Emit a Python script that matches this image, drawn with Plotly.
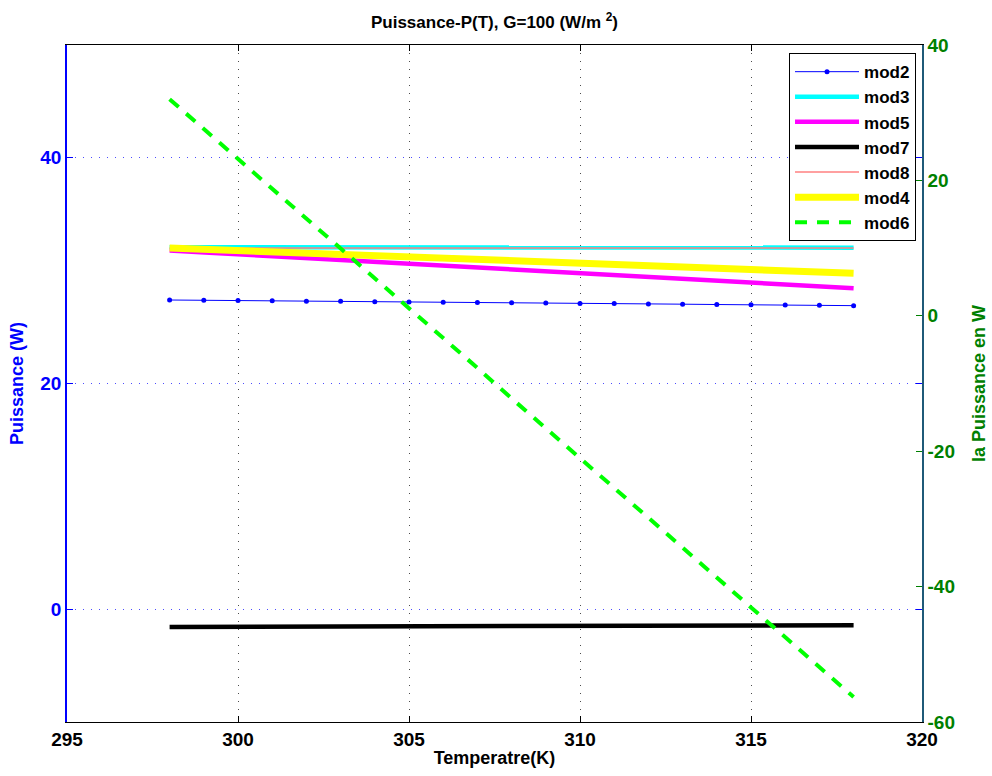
import plotly.graph_objects as go

temperature = list(range(298, 319))

mod2 = [27.40, 27.38, 27.35, 27.33, 27.30, 27.28, 27.25, 27.23, 27.20, 27.18, 27.15,
        27.13, 27.10, 27.08, 27.05, 27.03, 27.00, 26.98, 26.95, 26.93, 26.90]
mod3 = [32.08, 32.08, 32.08, 32.07, 32.07, 32.07, 32.07, 32.06, 32.06, 32.06, 32.06,
        32.06, 32.05, 32.05, 32.05, 32.05, 32.04, 32.04, 32.04, 32.04, 32.04]
mod5 = [31.78, 31.61, 31.45, 31.28, 31.11, 30.95, 30.78, 30.61, 30.44, 30.28, 30.11,
        29.94, 29.78, 29.61, 29.44, 29.28, 29.11, 28.94, 28.78, 28.61, 28.44]
mod7 = [-1.58, -1.57, -1.57, -1.56, -1.55, -1.54, -1.53, -1.52, -1.52, -1.51, -1.50,
        -1.49, -1.48, -1.47, -1.47, -1.46, -1.45, -1.44, -1.43, -1.43, -1.42]
mod8 = [32.00, 32.00, 32.00, 32.00, 32.00, 32.00, 32.00, 32.00, 32.00, 32.00, 32.00,
        32.00, 32.00, 32.00, 32.00, 32.00, 32.00, 32.00, 32.00, 32.00, 32.00]
mod4 = [32.00, 31.89, 31.78, 31.67, 31.55, 31.44, 31.33, 31.22, 31.11, 31.00, 30.89,
        30.77, 30.66, 30.55, 30.44, 30.33, 30.22, 30.11, 29.99, 29.88, 29.77]
mod6 = [32.0, 27.6, 23.2, 18.8, 14.3, 9.9, 5.5, 1.1, -3.3, -7.7, -12.2,
        -16.6, -21.0, -25.4, -29.8, -34.2, -38.6, -43.1, -47.5, -51.9, -56.3]

x_ticks = [295, 300, 305, 310, 315, 320]
left_ticks = [0, 20, 40]
right_ticks = [-60, -40, -20, 0, 20, 40]
right_tick_labels = ["-60", "-40", "-20", "0", "20", "40"]

FONT = "Liberation Sans, Arial, sans-serif"
BLUE = "#0000ff"
GREEN = "#008000"

fig = go.Figure()
fig.add_trace(go.Scatter(x=temperature, y=mod2, name="mod2", mode="lines+markers",
                         line=dict(color=BLUE, width=1), marker=dict(color=BLUE, size=5)))
fig.add_trace(go.Scatter(x=temperature, y=mod3, name="mod3", mode="lines",
                         line=dict(color="#00ffff", width=4.5)))
fig.add_trace(go.Scatter(x=temperature, y=mod5, name="mod5", mode="lines",
                         line=dict(color="#ff00ff", width=4.5)))
fig.add_trace(go.Scatter(x=temperature, y=mod7, name="mod7", mode="lines",
                         line=dict(color="#000000", width=4.5)))
fig.add_trace(go.Scatter(x=temperature, y=mod8, name="mod8", mode="lines",
                         line=dict(color="#ff8080", width=1.5)))
fig.add_trace(go.Scatter(x=temperature, y=mod4, name="mod4", mode="lines",
                         line=dict(color="#ffff00", width=7)))
fig.add_trace(go.Scatter(x=temperature, y=mod6, name="mod6", mode="lines", yaxis="y2",
                         line=dict(color="#00ff00", width=4, dash="12px,10px")))

fig.update_layout(
    width=992, height=776,
    paper_bgcolor="white", plot_bgcolor="white",
    margin=dict(l=67, r=70, t=45, b=54, autoexpand=False),
    font=dict(family=FONT, size=17, color="black"),
    title=dict(text="Puissance-P(T), G=100 (W/m <sup>2</sup>)", x=(67 + 922) / 2 / 992,
               xanchor="center", y=1 - 22 / 776, yanchor="middle",
               font=dict(size=17, color="black", weight="bold")),
    xaxis=dict(range=[295, 320], tickvals=x_ticks, ticks="inside", ticklen=6,
               showline=True, linecolor="black", linewidth=1, mirror="ticks",
               tickcolor="black", showgrid=True, gridcolor="rgba(0,0,0,0.7)",
               griddash="1px,7px", zeroline=False, automargin=False,
               tickfont=dict(family=FONT, size=19, color="black", weight="bold"),
               title=dict(text="Temperatre(K)", standoff=2,
                          font=dict(size=18, weight="bold"))),
    yaxis=dict(range=[-10, 50], tickvals=left_ticks, ticks="inside", ticklen=6,
               showline=True, linecolor=BLUE, linewidth=1.5, mirror="ticks",
               tickcolor=BLUE, showgrid=True, gridcolor="rgba(0,0,255,0.7)",
               griddash="1px,7px", zeroline=False, automargin=False,
               tickfont=dict(family=FONT, size=19, color=BLUE, weight="bold"),
               title=dict(text="Puissance (W)", standoff=12,
                          font=dict(size=18, color=BLUE, weight="bold"))),
    yaxis2=dict(range=[-60, 40], tickvals=right_ticks, ticktext=right_tick_labels,
                ticks="inside", ticklen=6,
                overlaying="y", side="right", showline=True, linecolor="#1f5a78",
                linewidth=1.5, tickcolor=GREEN, showgrid=False, zeroline=False,
                automargin=False,
                tickfont=dict(family=FONT, size=19, color=GREEN, weight="bold"),
                title=dict(text="la Puissance en W", standoff=18,
                           font=dict(size=18, color=GREEN, weight="bold"))),
    legend=dict(x=0.993, xanchor="right", y=0.988, yanchor="top",
                bgcolor="white", bordercolor="black", borderwidth=1,
                font=dict(family=FONT, size=17, color="black", weight="bold"),
                itemwidth=64, tracegroupgap=0),
    showlegend=True,
)

fig.write_html("out.html", config={"displayModeBar": False},
               post_script="document.body.style.margin='0';")
